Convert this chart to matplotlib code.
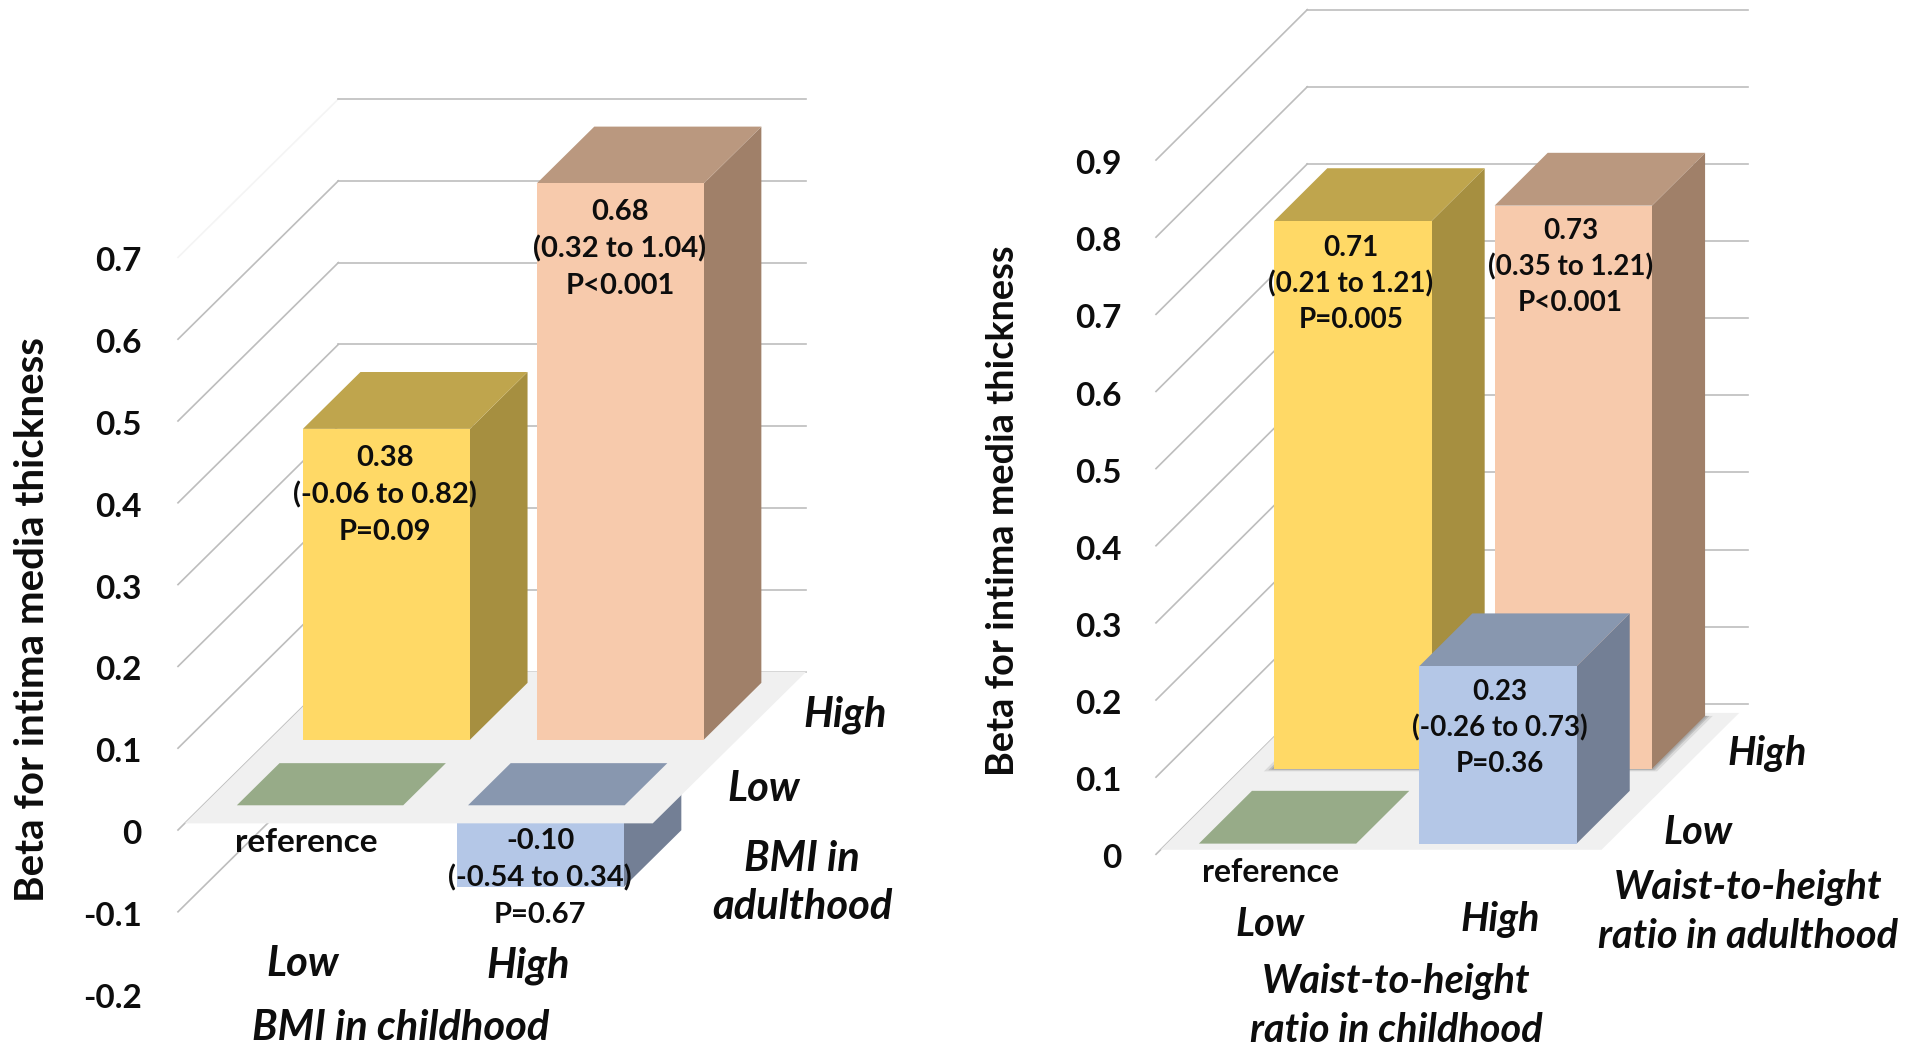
import matplotlib
matplotlib.use('Agg')
import matplotlib.pyplot as plt
from matplotlib.patches import Polygon
from matplotlib.transforms import ScaledTranslation

plt.rcParams['font.family'] = ['Lato', 'DejaVu Sans']

W, H = 1919, 1048

# BMI panel
bmi_ticks = [-0.2, -0.1, 0, 0.1, 0.2, 0.3, 0.4, 0.5, 0.6, 0.7]
bmi_tick_labels = ['-0.2', '-0.1', '0', '0.1', '0.2', '0.3', '0.4', '0.5', '0.6', '0.7']
bmi_grid = [0, 0.1, 0.2, 0.3, 0.4, 0.5, 0.6, 0.7]
bmi_beta = [0.38, 0.68, -0.10]
bmi_low = [-0.06, 0.32, -0.54]
bmi_high = [0.82, 1.04, 0.34]
bmi_p = ['P=0.09', 'P<0.001', 'P=0.67']

# waist-to-height panel
wht_ticks = [0, 0.1, 0.2, 0.3, 0.4, 0.5, 0.6, 0.7, 0.8, 0.9]
wht_tick_labels = ['0', '0.1', '0.2', '0.3', '0.4', '0.5', '0.6', '0.7', '0.8', '0.9']
wht_beta = [0.71, 0.73, 0.23]
wht_low = [0.21, 0.35, -0.26]
wht_high = [1.21, 1.21, 0.73]
wht_p = ['P=0.005', 'P<0.001', 'P=0.36']

YELLOW = ['#FFD966', '#BFA54D', '#A68F40']
PINK = ['#F7CAAC', '#BA987F', '#A08069']
BLUE = ['#B4C7E7', '#8897AF', '#737F95']
GREEN_TOP = '#97AB88'
FLOOR = '#F0F0F0'
GRID = '#BDBDBD'

fig = plt.figure(figsize=(W / 100, H / 100), dpi=100)


class Panel:
    """Наклонная проекция: x - категория, d - глубина (0..1), b - значение beta"""

    def __init__(self, left, right, x0, xunit, y0, yunit, dx, dy):
        self.xunit, self.yunit = xunit, yunit
        self.dx, self.dy = dx / xunit, dy / yunit
        self.wall_x = (left - x0) / xunit
        self.ax = fig.add_axes([left / W, 0, (right - left) / W, 1])
        self.ax.set_xlim((left - x0) / xunit, (right - x0) / xunit)
        self.ax.set_ylim((y0 - H) / yunit, y0 / yunit)
        for s in self.ax.spines.values():
            s.set_visible(False)
        self.ax.patch.set_alpha(0)
        self.ax.set_xticks([])

    def p(self, x, d, b):
        return (x + d * self.dx, b + d * self.dy)

    def poly(self, pts, color, z, alpha=None):
        self.ax.add_patch(Polygon(pts, closed=True, fc=color, ec='none', zorder=z, clip_on=False, alpha=alpha))

    def box(self, x, d0, d1, width, top, bottom, colors, z):
        l, r = x - width / 2, x + width / 2
        self.poly([self.p(r, d0, bottom), self.p(r, d1, bottom), self.p(r, d1, top), self.p(r, d0, top)], colors[2], z)
        self.poly([self.p(l, d0, top), self.p(r, d0, top), self.p(r, d1, top), self.p(l, d1, top)], colors[1], z)
        self.poly([self.p(l, d0, bottom), self.p(r, d0, bottom), self.p(r, d0, top), self.p(l, d0, top)], colors[0], z + 0.1)

    def square(self, x, d0, d1, width, color, z):
        l, r = x - width / 2, x + width / 2
        self.poly([self.p(l, d0, 0), self.p(r, d0, 0), self.p(r, d1, 0), self.p(l, d1, 0)], color, z)

    def shadow(self, x, d0, d1, width, z):
        # мягкая тень под столбиком на полу
        for grow, a in [(0.035, 0.25), (0.02, 0.45), (0.01, 0.6)]:
            l, r = x - width / 2 - grow, x + width / 2 + grow
            self.poly([self.p(l, d0 - grow / 2, 0), self.p(r, d0 - grow / 2, 0),
                       self.p(r, d1, 0), self.p(l, d1, 0)], '#9A9A9A', z, alpha=a)

    def floor(self, d0, d1, x_end, z):
        w = self.wall_x
        self.poly([self.p(w, d0, 0), self.p(x_end, d0, 0), self.p(x_end, d1, 0), self.p(w, d1, 0)], FLOOR, z)

    def gridline(self, b, x_end, color=GRID, diag_color=None):
        w = self.wall_x
        xs, ys = zip(self.p(w, 0, b), self.p(w, 1, b))
        self.ax.plot(xs, ys, color=diag_color or color, lw=1.2, zorder=1, clip_on=False)
        xs, ys = zip(self.p(w, 1, b), self.p(x_end, 1, b))
        self.ax.plot(xs, ys, color=color, lw=1.2, zorder=1, clip_on=False)


def label(x, y, s, size=30, style='italic', weight='bold', ls=1.35):
    fig.text(x / W, 1 - y / H, s, fontsize=size, fontstyle=style, fontweight=weight,
             ha='center', va='center', linespacing=ls, color='#0d0d0d')


def note(x, y, beta, lo, hi, p, size, ls):
    label(x, y, f'{beta:.2f}\n({lo:.2f} to {hi:.2f})\n{p}', size=size, style='normal', ls=ls)


def yaxis(panel, ticks, tick_labels, pad, lab_x, lab_y, lab_size):
    ax = panel.ax
    ax.set_yticks(ticks)
    ax.set_yticklabels(tick_labels, fontsize=24, fontweight='bold', color='#0d0d0d')
    ax.tick_params(axis='y', length=0, pad=pad)
    for t in ax.yaxis.get_major_ticks():
        t.label1.set_transform(t.label1.get_transform() + ScaledTranslation(0, -1.5 / 72, fig.dpi_scale_trans))
    fig.text(lab_x / W, 1 - lab_y / H, 'Beta for intima media thickness', rotation=90,
             fontsize=lab_size, fontweight='bold', ha='center', va='center', color='#0d0d0d')


# левая панель
a = Panel(178, 960, 295, 227, 830, 818, 160.4, 158.4)
yaxis(a, bmi_ticks, bmi_tick_labels, 26, 33, 620, 29)
x_end = (646 - 295) / 227
for b in bmi_grid:
    a.gridline(b, x_end, diag_color='#F4F4F4' if b == 0.7 else GRID)
a.gridline(-0.1, a.wall_x, diag_color=GRID)

a.box(0.97, 0.156, 0.515, 0.736, 0, bmi_beta[2], BLUE, 2)
a.floor(0.042, 1.0, x_end, 3)
a.square(0.0, 0.156, 0.422, 0.733, GREEN_TOP, 4)
a.square(0.997, 0.156, 0.422, 0.69, BLUE[1], 4)
a.box(0.0, 0.57, 0.929, 0.736, bmi_beta[0], 0, YELLOW, 5)
a.box(1.03, 0.57, 0.929, 0.736, bmi_beta[1], 0, PINK, 6)

note(384.6, 495, bmi_beta[0], bmi_low[0], bmi_high[0], bmi_p[0], 21, 1.5)
note(620, 249, bmi_beta[1], bmi_low[1], bmi_high[1], bmi_p[1], 21, 1.5)
note(540, 878, bmi_beta[2], bmi_low[2], bmi_high[2], bmi_p[2], 21, 1.5)
label(306, 842, 'reference', size=24, style='normal')
label(845, 715, 'High')
label(764, 789, 'Low')
label(802, 883, 'BMI in\nadulthood')
label(303, 964, 'Low')
label(528, 966, 'High')
label(401, 1028, 'BMI in childhood')

# правая панель
c = Panel(1156, 1919, 1266.8, 220.4, 854.3, 771.4, 151.3, 150.4)
yaxis(c, wht_ticks, wht_tick_labels, 25, 1003, 511, 27.3)
x_end = (1597 - 1266.8) / 220.4
for b in wht_ticks:
    c.gridline(b, x_end)

c.floor(0.03, 0.94, x_end, 3)
c.square(0.0, 0.071, 0.422, 0.714, GREEN_TOP, 4)
c.shadow(0.0, 0.569, 0.92, 0.714, 4.5)
c.shadow(1.0, 0.569, 0.92, 0.714, 4.5)
c.box(0.0, 0.569, 0.92, 0.714, wht_beta[0], 0, YELLOW, 5)
c.box(1.0, 0.569, 0.92, 0.714, wht_beta[1], 0, PINK, 6)
c.box(1.0, 0.071, 0.422, 0.714, wht_beta[2], 0, BLUE, 7)

note(1351, 284, wht_beta[0], wht_low[0], wht_high[0], wht_p[0], 20, 1.46)
note(1570.5, 267, wht_beta[1], wht_low[1], wht_high[1], wht_p[1], 20, 1.46)
note(1500, 728, wht_beta[2], wht_low[2], wht_high[2], wht_p[2], 20, 1.46)
label(1270.5, 872, 'reference', size=23, style='normal')
label(1767, 754, 'High', size=28.5)
label(1698, 832, 'Low', size=28.5)
label(1748, 912, 'Waist-to-height\nratio in adulthood', size=28.5, ls=1.4)
label(1270, 924, 'Low', size=28.5)
label(1500, 919, 'High', size=28.5)
label(1396, 1006, 'Waist-to-height\nratio in childhood', size=28.5, ls=1.4)

fig.savefig('out.png', dpi=100)
